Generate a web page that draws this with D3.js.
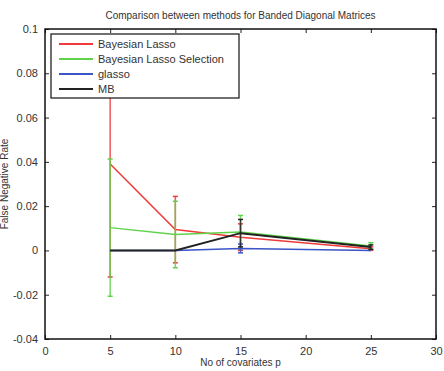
<!DOCTYPE html>
<html>
<head>
<meta charset="utf-8">
<script src="https://cdn.jsdelivr.net/npm/d3@7"></script>
<style>
  body { margin: 0; background: #fff; }
  text { font-family: "Liberation Sans", Arial, sans-serif; fill: #333; }
</style>
</head>
<body>
<div id="chart"></div>
<script>
const covariates = [5, 10, 15, 25];
const seriesNames = ['Bayesian Lasso', 'Bayesian Lasso Selection', 'glasso', 'MB'];
const seriesColors = ['#f03a3a', '#5fd24a', '#3b54c8', '#222222'];

const bayesLassoMean = [0.039, 0.0094, 0.006, 0.0008];
const bayesLassoErr = [0.051, 0.015, 0.006, 0.0008];
const bayesSelMean = [0.0103, 0.0072, 0.0083, 0.002];
const bayesSelErr = [0.031, 0.015, 0.0075, 0.0015];
const glassoMean = [0, 0, 0.0009, 0];
const glassoErr = [0, 0, 0.002, 0];
const mbMean = [0, 0, 0.0078, 0.0015];
const mbErr = [0, 0, 0.0062, 0.001];

const xTicks = [0, 5, 10, 15, 20, 25, 30];
const yTicks = [-0.04, -0.02, 0, 0.02, 0.04, 0.06, 0.08, 0.1];

const series = [
  { name: seriesNames[0], color: seriesColors[0], mean: bayesLassoMean, err: bayesLassoErr },
  { name: seriesNames[1], color: seriesColors[1], mean: bayesSelMean, err: bayesSelErr },
  { name: seriesNames[2], color: seriesColors[2], mean: glassoMean, err: glassoErr },
  { name: seriesNames[3], color: seriesColors[3], mean: mbMean, err: mbErr }
];

const W = 444, H = 371;
const margin = { top: 29, right: 8, bottom: 32, left: 45 };
const width = W - margin.left - margin.right;
const height = H - margin.top - margin.bottom;

const svg = d3.select('#chart').append('svg')
  .attr('width', W)
  .attr('height', H);

const g = svg.append('g')
  .attr('transform', 'translate(' + margin.left + ',' + margin.top + ')');

const x = d3.scaleLinear().domain([0, 30]).range([0, width]);
const y = d3.scaleLinear().domain([-0.04, 0.1]).range([height, 0]);

const fmt = d => d === 0 ? '0' : d3.format('')(+d.toFixed(2)).replace('\u2212', '-');

// axes, ticks pointing inward, mirrored on top/right
function styleAxis(sel) {
  sel.select('.domain').remove();
  sel.selectAll('line').attr('stroke', '#222').attr('stroke-width', 1);
  sel.selectAll('text').attr('font-size', '11px').style('fill', '#333');
}

g.append('g')
  .attr('transform', 'translate(0,' + height + ')')
  .call(d3.axisBottom(x).tickValues(xTicks).tickSizeInner(-4).tickSizeOuter(0).tickPadding(8))
  .call(styleAxis);
g.append('g')
  .call(d3.axisTop(x).tickValues(xTicks).tickSizeInner(-4).tickSizeOuter(0).tickFormat(''))
  .call(styleAxis);
g.append('g')
  .call(d3.axisLeft(y).tickValues(yTicks).tickSizeInner(-4).tickSizeOuter(0).tickPadding(7).tickFormat(fmt))
  .call(styleAxis);
g.append('g')
  .attr('transform', 'translate(' + width + ',0)')
  .call(d3.axisRight(y).tickValues(yTicks).tickSizeInner(-4).tickSizeOuter(0).tickFormat(''))
  .call(styleAxis);

// series
const line = d3.line().x(d => x(d.x)).y(d => y(d.y));
const cap = 2.5;

series.forEach(s => {
  const pts = covariates.map((c, i) => ({ x: c, y: s.mean[i], e: s.err[i] }));
  const sg = g.append('g');
  pts.forEach(p => {
    if (p.e <= 0) return;
    const lo = y(p.y - p.e), hi = y(p.y + p.e), cx = x(p.x);
    sg.append('line').attr('x1', cx).attr('x2', cx).attr('y1', lo).attr('y2', hi)
      .attr('stroke', s.color).attr('stroke-width', 1.5).attr('opacity', 0.85);
    [lo, hi].forEach(yy => {
      sg.append('line').attr('x1', cx - cap).attr('x2', cx + cap).attr('y1', yy).attr('y2', yy)
        .attr('stroke', s.color).attr('stroke-width', 1.5);
    });
  });
  sg.append('path')
    .datum(pts)
    .attr('d', line)
    .attr('fill', 'none')
    .attr('stroke', s.color)
    .attr('stroke-width', s.name === 'MB' ? 2 : 1.5);
});

// frame
g.append('rect')
  .attr('width', width).attr('height', height)
  .attr('fill', 'none').attr('stroke', '#111').attr('stroke-width', 1.5);

// legend
const leg = g.append('g').attr('transform', 'translate(6,5)');
leg.append('rect')
  .attr('width', 188).attr('height', 64)
  .attr('fill', '#fff').attr('stroke', '#111').attr('stroke-width', 1.2);
series.forEach((s, i) => {
  const yy = 10 + i * 15;
  leg.append('line').attr('x1', 8).attr('x2', 42).attr('y1', yy).attr('y2', yy)
    .attr('stroke', s.color).attr('stroke-width', 1.8);
  leg.append('text').attr('x', 47).attr('y', yy + 4)
    .attr('font-size', '11px').text(s.name);
});

// titles
svg.append('text')
  .attr('x', margin.left + width / 2).attr('y', 19)
  .attr('text-anchor', 'middle').attr('font-size', '10px')
  .text('Comparison between methods for Banded Diagonal Matrices');

svg.append('text')
  .attr('x', margin.left + width / 2).attr('y', 366)
  .attr('text-anchor', 'middle').attr('font-size', '10px')
  .text('No of covariates p');

svg.append('text')
  .attr('transform', 'translate(8,' + (margin.top + height / 2) + ') rotate(-90)')
  .attr('text-anchor', 'middle').attr('font-size', '10px')
  .text('False Negative Rate');
</script>
</body>
</html>
